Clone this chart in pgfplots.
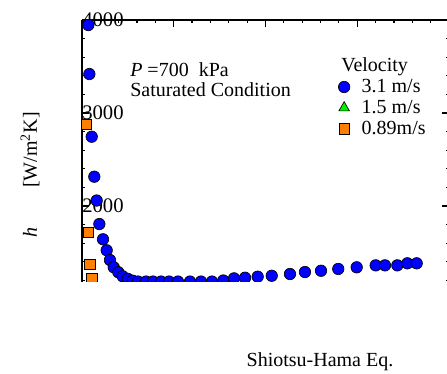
\documentclass[border=0pt]{standalone}
\usepackage{pgfplots}
\pgfplotsset{compat=1.18}
\usepackage{fontspec}
\setmainfont{Liberation Serif}
\definecolor{mblue}{RGB}{0,0,255}
\definecolor{morange}{RGB}{255,128,0}
\definecolor{mgreen}{RGB}{0,240,0}
\begin{document}
\begin{tikzpicture}[font=\fontsize{15}{15}\selectfont]
\useasboundingbox (0,0) rectangle (335.25pt,-280.5pt);
\begin{axis}[
  at={(61.5pt,-211.5pt)}, anchor=south west,
  scale only axis, width=275.25pt, height=196.5pt,
  xmin=0, xmax=40, ymin=1183, ymax=4000,
  clip marker paths=true,
  axis x line*=top, axis y line*=box,
  x axis line style={-}, y axis line style={-},
  axis line style={line width=1pt},
  xtick={0,10,20,30,40}, minor xtick={2,4,...,38}, xticklabels={},
  ytick={2000,3000,4000}, yticklabels={2000,3000,4000},
  minor ytick={1200,1400,...,3800},
  tick align=inside,
  major tick length=5pt, minor tick length=2.6pt,
  every tick/.style={black, line width=0.9pt},
  yticklabel style={anchor=west, inner sep=0pt, font=\fontsize{15.5}{15}\selectfont},
  legend style={at={(0.698,0.785)}, anchor=north west, draw=none, fill=none,
    inner sep=0pt, font=\fontsize{15}{15}\selectfont,
    nodes={inner sep=2.1pt}, row sep=0pt,
    /tikz/every odd column/.append style={column sep=6.75pt}},
  legend cell align=left,
  legend image code/.code={\draw[#1] plot coordinates {(0pt,0pt)};},
]
\addplot[only marks, mark=*, mark size=4.3pt, mark options={draw=black, fill=mblue, line width=0.5pt}] coordinates {
(0.69,3946) (0.80,3419) (1.06,2745) (1.34,2315) (1.60,2059) (1.89,1806)
(2.29,1642) (2.69,1524) (3.05,1419) (3.46,1341) (3.96,1288) (4.44,1244)
(4.99,1217) (5.53,1197) (6.10,1188) (6.98,1188) (7.74,1188) (8.61,1188)
(9.48,1188) (10.46,1188) (11.77,1188) (12.97,1188) (14.17,1188)
(15.40,1199) (16.57,1222) (17.77,1229) (19.15,1240) (20.68,1250)
(22.67,1269) (24.30,1290) (26.05,1304) (27.93,1323) (29.94,1341)
(32.01,1362) (33.02,1362) (34.37,1362) (35.46,1384) (36.48,1384)
};
\addlegendentry{3.1 m/s}
\addlegendimage{only marks, mark=triangle*, mark size=4.6pt, mark options={draw=black, fill=mgreen, line width=0.5pt}}
\addlegendentry{1.5 m/s}
\addplot[only marks, mark=square*, mark size=3.9pt, mark options={draw=black, fill=morange, line width=0.5pt}] coordinates {
(0.44,2878) (0.69,1717) (0.87,1373) (1.06,1215)
};
\addlegendentry{0.89m/s}
\end{axis}
\node[anchor=base west, inner sep=0pt] at (130*0.75pt,-77*0.75pt) {\textit{P} =700\ \ kPa};
\node[anchor=base west, inner sep=0pt] at (130*0.75pt,-97*0.75pt) {Saturated Condition};
\node[anchor=base west, inner sep=0pt] at (341*0.75pt,-72*0.75pt) {Velocity};
\node[rotate=90, inner sep=0pt] at (30*0.75pt,-175*0.75pt) {\textit{h}\hspace{30pt}[W/m\textsuperscript{2}K]};
\node[anchor=base, inner sep=0pt] at (320*0.75pt,-367*0.75pt) {Shiotsu-Hama Eq.};
\end{tikzpicture}
\end{document}
